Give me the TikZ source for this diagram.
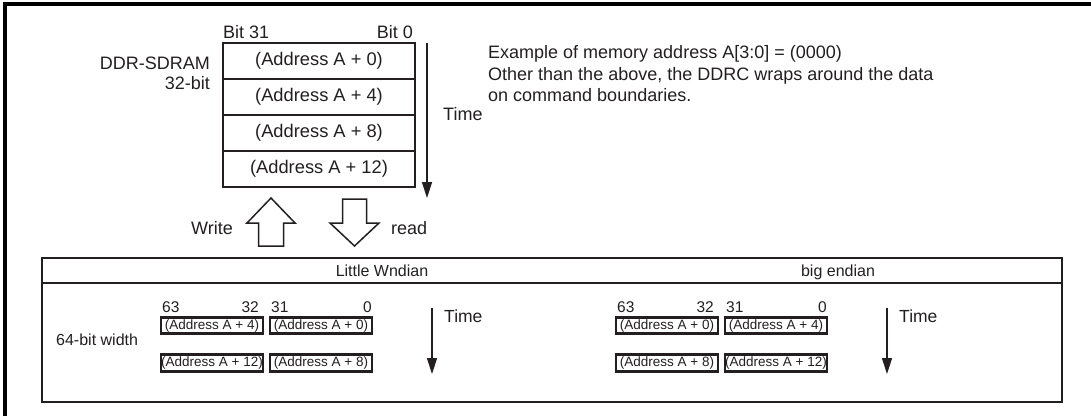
\documentclass[tikz,border=0pt]{standalone}
\usepackage{fontspec}
\setmainfont{Liberation Sans}
\usetikzlibrary{arrows.meta}
\definecolor{ink}{HTML}{231F20}
\tikzset{
  lbl/.style={inner sep=0pt, text=ink, font=\fontsize{18}{21}\selectfont},
  lblsm/.style={inner sep=0pt, text=ink, font=\fontsize{16}{19}\selectfont},
  numlbl/.style={inner sep=0pt, text=ink, font=\fontsize{15.5}{18}\selectfont},
  rowbox/.style={draw=ink, line width=2.8pt, minimum width=192pt, minimum height=36pt, inner sep=0pt, text=ink, font=\fontsize{18.3}{21}\selectfont},
  cellbox/.style={draw=ink, line width=2.7pt, minimum width=102pt, minimum height=16.5pt, inner sep=0pt, text=ink, font=\fontsize{13.5}{15}\selectfont},
  tablebox/.style={draw=ink, line width=2.8pt, minimum width=1020pt, minimum height=144pt, inner sep=0pt},
  timearrow/.style={draw=ink, line width=1.4pt, -{Triangle[length=16pt,width=10pt]}},
  blockarrow/.style={draw=ink, line width=1.5pt, fill=white, line join=miter},
  framestyle/.style={draw=black, line width=4pt}
}
\begin{document}
\begin{tikzpicture}[x=1pt,y=-1pt]
\useasboundingbox (0,0) rectangle (1091,416);
% outer frame (only top and left edges visible)
\coordinate (f1) at (4.5,416);
\coordinate (f2) at (4.5,3.5);
\coordinate (f3) at (1091,3.5);
\draw[framestyle] (f1) -- (f2) -- (f3);

% DDR-SDRAM 32-bit column
\node[rowbox] (r0) at (319,61) {(Address A + 0)};
\node[rowbox] (r1) at (319,97) {(Address A + 4)};
\node[rowbox] (r2) at (319,133) {(Address A + 8)};
\node[rowbox] (r3) at (319,169) {(Address A + 12)};
\node[lbl, anchor=base west] (b31) at (223,38.4) {Bit 31};
\node[lbl, anchor=base east] (b0) at (413,38.4) {Bit 0};
\node[lbl, anchor=base east] (ddr) at (210,69.5) {DDR-SDRAM};
\node[lbl, anchor=base east] (w32) at (210,89.5) {32-bit};

% time arrow (top)
\coordinate (ta1) at (427,43);
\coordinate (ta2) at (427,198);
\draw[timearrow] (ta1) -- (ta2);
\node[lbl, anchor=base west] (time0) at (443,120.5) {Time};

% note text
\node[lbl, anchor=base west] (n1) at (488,58.5) {Example of memory address A[3:0] = (0000)};
\node[lbl, anchor=base west] (n2) at (488,80) {Other than the above, the DDRC wraps around the data};
\node[lbl, anchor=base west] (n3) at (488,101.5) {on command boundaries.};

% write / read block arrows
\draw[blockarrow] (258.5,246) -- (258.5,223) -- (247,223) -- (271,198) -- (295,223) -- (283.5,223) -- (283.5,246) -- cycle;
\draw[blockarrow] (342.5,199) -- (342.5,223) -- (330,223) -- (354.5,246) -- (379,223) -- (366.5,223) -- (366.5,199) -- cycle;
\node[lbl, anchor=base east] (write) at (233,234.5) {Write};
\node[lbl, anchor=base west] (read) at (391,234.5) {read};

% table
\node[tablebox] (table) at (552,330) {};
\coordinate (h1) at (42,283);
\coordinate (h2) at (1062,283);
\draw[draw=ink, line width=2.8pt] (h1) -- (h2);
\node[lblsm, anchor=base] (le) at (382,276.7) {Little Wndian};
\node[lblsm, anchor=base] (be) at (838,276.7) {big endian};
\node[lblsm, anchor=base west] (w64) at (56,345.7) {64-bit width};

% little endian cells
\node[numlbl, anchor=base west] (l63) at (162,312.5) {63};
\node[numlbl, anchor=base east] (l32) at (259,312.5) {32};
\node[numlbl, anchor=base west] (l31) at (271,312.5) {31};
\node[numlbl, anchor=base east] (l0) at (372,312.5) {0};
\node[cellbox] (la) at (212,325.5) {(Address A + 4)};
\node[cellbox] (lb) at (321,325.5) {(Address A + 0)};
\node[cellbox] (lc) at (212,363) {(Address A + 12)};
\node[cellbox] (ld) at (321,363) {(Address A + 8)};
\coordinate (lt1) at (432,308);
\coordinate (lt2) at (432,374);
\draw[timearrow] (lt1) -- (lt2);
\node[lbl, font=\fontsize{17.5}{20}\selectfont, anchor=base west] (ltime) at (444,322.3) {Time};

% big endian cells
\node[numlbl, anchor=base west] (b63) at (617,312.5) {63};
\node[numlbl, anchor=base east] (b32) at (714,312.5) {32};
\node[numlbl, anchor=base west] (bb31) at (726,312.5) {31};
\node[numlbl, anchor=base east] (bb0) at (827,312.5) {0};
\node[cellbox] (ba) at (667,325.5) {(Address A + 0)};
\node[cellbox] (bb) at (776,325.5) {(Address A + 4)};
\node[cellbox] (bc) at (667,363) {(Address A + 8)};
\node[cellbox] (bd) at (776,363) {(Address A + 12)};
\coordinate (bt1) at (887,308);
\coordinate (bt2) at (887,374);
\draw[timearrow] (bt1) -- (bt2);
\node[lbl, font=\fontsize{17.5}{20}\selectfont, anchor=base west] (btime) at (899,322.3) {Time};
\end{tikzpicture}
\end{document}
